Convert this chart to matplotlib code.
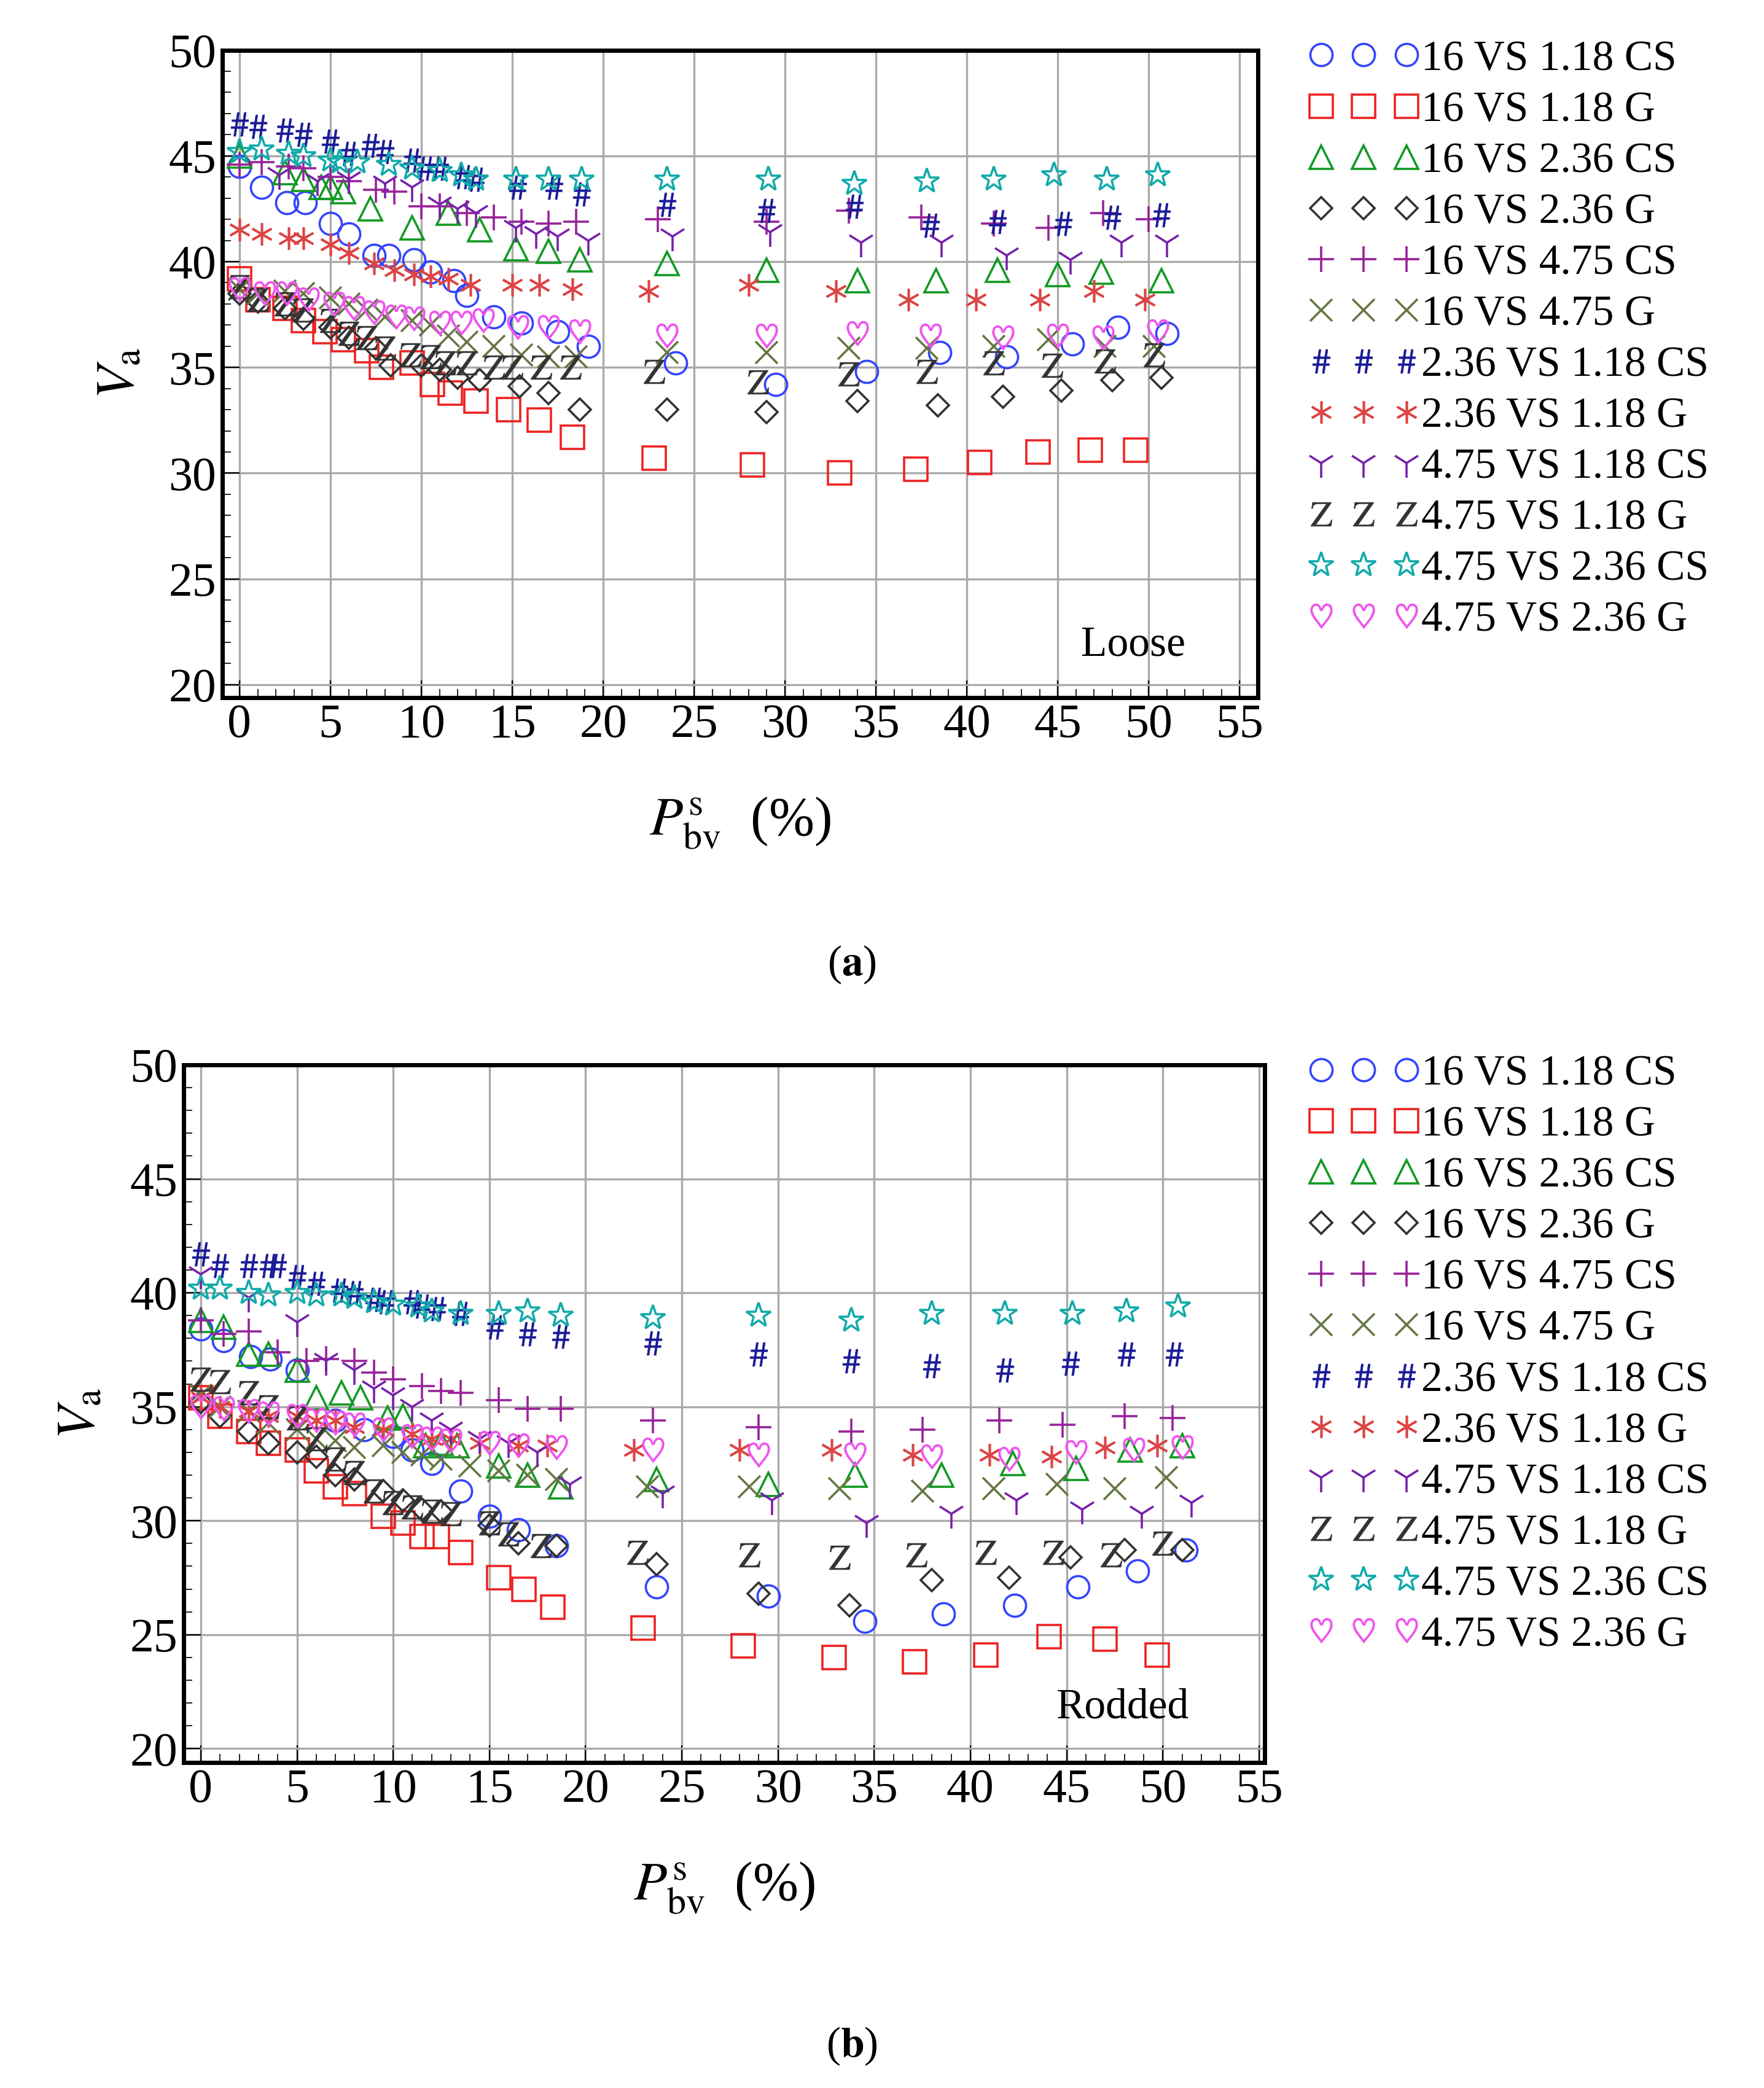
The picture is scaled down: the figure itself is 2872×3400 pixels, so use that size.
import matplotlib
matplotlib.use("Agg")
import matplotlib.pyplot as plt
from matplotlib.ticker import MultipleLocator

plt.rcParams['font.family'] = ['Liberation Serif', 'DejaVu Serif']
plt.rcParams['mathtext.fontset'] = 'stix'

labels = ["16 VS 1.18 CS", "16 VS 1.18 G", "16 VS 2.36 CS", "16 VS 2.36 G",
          "16 VS 4.75 CS", "16 VS 4.75 G", "2.36 VS 1.18 CS", "2.36 VS 1.18 G",
          "4.75 VS 1.18 CS", "4.75 VS 1.18 G", "4.75 VS 2.36 CS", "4.75 VS 2.36 G"]

# Panel (a) Loose: list of (x, y) points per series
loose = [
 [(0,44.5),(1.2,43.5),(2.6,42.8),(3.6,42.8),(5,41.8),(6,41.3),(7.4,40.3),(8.2,40.3),(9.6,40.1),(10.5,39.5),(11.8,39.1),(12.5,38.4),(14,37.4),(15.5,37.1),(17.5,36.7),(19.2,36),(24,35.2),(29.5,34.2),(34.5,34.8),(38.5,35.7),(42.2,35.5),(45.8,36.1),(48.3,36.9),(51,36.6)],
 [(0,39.2),(1,38.2),(2.5,37.8),(3.5,37.2),(4.7,36.7),(5.7,36.3),(7,35.8),(7.8,35),(9.5,35.2),(10.6,34.2),(11.6,33.8),(13,33.4),(14.8,33),(16.5,32.5),(18.3,31.7),(22.8,30.7),(28.2,30.4),(33,30),(37.2,30.2),(40.7,30.5),(43.9,31),(46.8,31.1),(49.3,31.1)],
 [(0,45),(2.5,44.2),(3.5,43.9),(4.5,43.5),(5,43.5),(5.7,43.3),(7.2,42.5),(9.5,41.6),(11.5,42.3),(13.2,41.5),(15.2,40.6),(17,40.5),(18.7,40.1),(23.5,39.9),(29,39.6),(34,39.1),(38.3,39.1),(41.7,39.6),(45,39.4),(47.4,39.5),(50.7,39.1)],
 [(0,38.5),(1,38.1),(2.5,37.8),(3.5,37.3),(5,36.9),(6,36.4),(7.5,35.9),(8.3,35.1),(10,35.1),(11,34.9),(12,34.5),(13.2,34.4),(15.4,34.1),(17,33.8),(18.7,33),(23.5,33),(29,32.9),(34,33.4),(38.4,33.2),(42,33.6),(45.2,33.9),(48,34.4),(50.7,34.5)],
 [(0,44.6),(1.2,44.7),(2.7,44.5),(3.5,44.4),(5,44),(6,43.8),(7.5,43.4),(8.5,43.3),(10,42.6),(11,42.6),(12.5,42.3),(14,42.1),(15.5,41.9),(17,41.8),(18.5,41.9),(23,42),(29,41.9),(33.5,42.4),(37.5,42.1),(41.5,41.8),(44.5,41.6),(47.5,42.3),(50,42.0)],
 [(0,38.7),(1,38.5),(2.5,38.6),(3.5,38.5),(5,38.3),(6,38),(7,37.7),(8,37.4),(9.5,37.2),(10.5,37),(11.5,36.5),(12.5,36.2),(14,36),(15.5,35.6),(17,35.5),(18.5,35.5),(23.5,35.7),(29,35.7),(33.5,35.9),(37.8,35.9),(41.5,36),(44.5,36.3),(47.6,36),(50.3,36)],
 [(0,46.5),(1,46.4),(2.5,46.2),(3.5,46),(5,45.7),(6,45.1),(7.2,45.5),(8,45.2),(9.5,44.8),(10.2,44.4),(11,44.4),(12.3,44.0),(13,43.9),(15.3,43.5),(17.3,43.5),(18.8,43.2),(23.5,42.7),(29,42.4),(33.8,42.6),(38,41.7),(41.7,41.9),(45.3,41.8),(48,42.1),(50.7,42.2)],
 [(0,41.5),(1.2,41.3),(2.7,41.1),(3.5,41.1),(5,40.8),(6,40.4),(7.4,39.9),(8.5,39.6),(9.6,39.4),(10.5,39.3),(11.5,39.2),(12.7,38.9),(15,38.9),(16.5,38.9),(18.3,38.7),(22.5,38.6),(28,38.9),(32.8,38.6),(36.8,38.2),(40.5,38.2),(44,38.2),(47,38.6),(49.8,38.2)],
 [(2.2,44.1),(4.3,43.8),(6,43.9),(8,43.7),(9.5,43.5),(11,42.7),(12,42.5),(13,42.3),(15.2,41.6),(16.3,41.3),(17.5,41.2),(19.2,41),(23.8,41.2),(29.2,41.4),(34.2,40.9),(38.6,40.9),(42.2,40.3),(45.7,40.1),(48.5,40.9),(51,40.9)],
 [(0,38.8),(1,38.2),(2.5,38),(3.5,37.7),(5,37.2),(6,36.6),(7,36.4),(8,35.9),(9.4,35.6),(10.5,35.5),(11.3,35.2),(12.5,35.2),(14,35),(15,35),(16.6,35),(18.2,35),(22.8,34.8),(28.5,34.3),(33.5,34.7),(37.8,34.8),(41.5,35.2),(44.7,35.1),(47.6,35.3),(50.3,35.6)],
 [(0,45.2),(1.2,45.3),(2.7,45.1),(3.5,45),(5,44.8),(5.5,44.7),(6.5,44.7),(8.2,44.6),(9.5,44.4),(11,44.3),(12.2,44.1),(13,43.9),(15.2,43.9),(17,43.9),(18.8,43.9),(23.5,43.9),(29.1,43.9),(33.8,43.7),(37.8,43.8),(41.5,43.9),(44.8,44.1),(47.7,43.9),(50.5,44.1)],
 [(0,38.7),(1.4,38.5),(2.6,38.5),(3.8,38.2),(5.2,38.0),(6.3,37.8),(7.4,37.6),(8.6,37.4),(9.6,37.3),(11,37.1),(12.2,37.1),(13.4,37.2),(15.3,36.9),(17,36.9),(18.7,36.7),(23.5,36.5),(29,36.5),(34,36.6),(38,36.5),(42,36.4),(45,36.5),(47.5,36.4),(50.5,36.7)],
]

# Panel (b) Rodded
rodded = [
 [(0,38.4),(1.2,37.9),(2.6,37.2),(3.6,37.1),(5,36.6),(7,34.4),(8.5,34),(10,33.7),(11,33.1),(12,32.5),(13.5,31.3),(15,30.2),(16.5,29.6),(18.5,28.9),(23.7,27.1),(29.5,26.7),(34.5,25.6),(38.6,25.9),(42.3,26.3),(45.6,27.1),(48.7,27.8),(51.2,28.7)],
 [(0,35.4),(1,34.6),(2.5,33.9),(3.5,33.4),(5,33.1),(6,32.2),(7,31.5),(8,31.2),(9.5,30.2),(10.5,29.9),(11.5,29.3),(12.3,29.3),(13.5,28.6),(15.5,27.5),(16.8,27),(18.3,26.2),(23,25.3),(28.2,24.5),(32.9,24),(37.1,23.8),(40.8,24.1),(44.1,24.9),(47,24.8),(49.7,24.1)],
 [(0,38.8),(1.2,38.5),(2.5,37.3),(3.5,37.3),(5,36.6),(6,35.4),(7.3,35.6),(8.3,35.4),(9.7,34.5),(10.5,34.6),(11.7,33.3),(12.5,33.4),(13.3,33.3),(15.5,32.4),(17,32),(18.7,31.5),(23.7,31.8),(29.5,31.6),(34,32),(38.5,32),(42.2,32.5),(45.5,32.3),(48.3,33.1),(51,33.3)],
 [(0,35.2),(1,34.6),(2.5,33.9),(3.5,33.4),(5,33),(6,32.8),(7,32),(8,31.8),(9.5,31.3),(10.5,30.9),(11.5,30.5),(12.5,30.4),(15,29.8),(16.5,29),(18.5,28.9),(23.7,28.1),(29,26.8),(33.7,26.3),(38,27.4),(42,27.5),(45.2,28.4),(48,28.7),(51,28.7)],
 [(0,38.8),(1.2,38.2),(2.5,38.3),(4,37.4),(5.5,37),(6.5,37.1),(8,37),(9,36.5),(10,36.2),(11.5,35.9),(12.5,35.7),(13.5,35.6),(15.5,35.3),(17,34.9),(18.7,34.9),(23.5,34.4),(29,34.1),(33.8,33.9),(37.5,34.0),(41.5,34.4),(44.8,34.2),(48,34.6),(50.5,34.5)],
 [(0,35.5),(1,35),(2.5,34.8),(3.5,34.3),(5,34),(6,33.6),(7,33.5),(8,33.2),(9.5,33.3),(10.5,33),(11.5,32.9),(12.5,32.7),(14,32.4),(15.5,32.2),(17,32),(18.5,31.8),(23.2,31.5),(28.5,31.5),(33.2,31.4),(37.5,31.3),(41.2,31.4),(44.5,31.6),(47.5,31.4),(50.2,31.9)],
 [(0,41.7),(1,41.2),(2.5,41.2),(3.5,41.2),(4,41.2),(5,40.7),(6,40.4),(7.2,40.1),(8,40),(9,39.7),(9.6,39.6),(11,39.6),(11.5,39.4),(12.3,39.3),(13.5,39.1),(15.3,38.5),(17,38.2),(18.7,38.1),(23.5,37.8),(29,37.3),(33.8,37),(38,36.8),(41.8,36.6),(45.2,36.9),(48.1,37.3),(50.6,37.3)],
 [(0,35.4),(1,35.0),(2.5,34.8),(3.5,34.6),(5,34.6),(6,34.4),(7,34.4),(8,34.1),(9.5,34),(11,33.8),(12,33.6),(13,33.6),(14.5,33.4),(16.5,33.3),(18,33.3),(22.5,33.1),(28,33.1),(32.8,33.1),(37,32.9),(41,32.9),(44.2,32.8),(47,33.2),(49.7,33.3)],
 [(0,40.8),(2.5,39.8),(5,38.7),(6.5,37.0),(8,36.6),(9,35.8),(10,35.5),(11,35.0),(12,34.4),(13,34.0),(14.5,33.6),(16,33.4),(17.5,33.0),(19.2,31.6),(24,31.2),(29.7,30.9),(34.6,29.9),(39,30.3),(42.4,30.9),(45.8,30.5),(48.9,30.3),(51.5,30.8)],
 [(0,36.2),(1,36.1),(2.5,35.6),(3.5,35),(5,34.5),(6,33.6),(7,32.7),(8,32.1),(9,31.3),(10,30.8),(11,30.6),(12,30.4),(13,30.3),(15,29.9),(16,29.4),(17.7,28.9),(22.7,28.6),(28.5,28.5),(33.2,28.4),(37.2,28.5),(40.8,28.6),(44.3,28.6),(47.3,28.5),(50,29)],
 [(0,40.2),(1,40.2),(2.5,40.0),(3.5,39.9),(5,40),(6,39.9),(7.3,39.9),(8,39.8),(9,39.6),(10,39.5),(11.3,39.4),(12,39.2),(13.5,39.1),(15.5,39.1),(17,39.2),(18.7,39),(23.5,38.9),(29,39),(33.8,38.8),(38,39.1),(41.8,39.1),(45.3,39.1),(48.1,39.2),(50.8,39.4)],
 [(0,35),(1.2,34.9),(2.5,34.8),(3.5,34.7),(5,34.6),(6,34.4),(7,34.3),(8,34.2),(9.5,34),(11,33.7),(12,33.6),(13,33.5),(15,33.4),(16.5,33.3),(18.5,33.2),(23.5,33.1),(29,32.9),(34,32.9),(38,32.8),(42,32.7),(45.5,33),(48.5,33.1),(51,33.2)],
]

markers = ['o', 's', '^', 'D', '+', 'x', r'$\#$', (6, 2, 0), '1', r'$\mathrm{Z}$', '*', r'$\heartsuit$']
colors = ['#3344ff', '#ee2222', '#119922', '#333333', '#992299', '#667744',
          '#1a1a99', '#dd4444', '#7722aa', '#333333', '#11aaaa', '#ee55ee']
sizes = [13, 14, 14, 9, 15, 13, 14, 13, 17, 14, 15, 15]
filled = [False, False, False, False, True, True, True, True, True, True, False, True]
mew = [1.3, 1.3, 1.3, 1.3, 1.3, 1.3, 0.2, 1.3, 1.3, 0.2, 1.3, 0.0]

fig = plt.figure(figsize=(14.36, 17), dpi=200)
axa = fig.add_axes([0.126, 0.666, 0.587, 0.310])
axb = fig.add_axes([0.104, 0.156, 0.613, 0.334])

for ax, data, xl, name in [(axa, loose, (-0.95, 56.0), 'Loose'), (axb, rodded, (-0.9, 55.3), 'Rodded')]:
    handles = []
    for i, pts in enumerate(data):
        xs = [p[0] for p in pts]; ys = [p[1] for p in pts]
        kw = dict(linestyle='none', marker=markers[i], markersize=sizes[i], color=colors[i],
                  markeredgewidth=mew[i], label=labels[i])
        if not filled[i]:
            kw['markerfacecolor'] = 'none'
        h, = ax.plot(xs, ys, **kw)
        handles.append(h)
    ax.set_xlim(*xl); ax.set_ylim(19.4, 50)
    ax.xaxis.set_major_locator(MultipleLocator(5)); ax.xaxis.set_minor_locator(MultipleLocator(1))
    ax.yaxis.set_major_locator(MultipleLocator(5)); ax.yaxis.set_minor_locator(MultipleLocator(1))
    ax.tick_params(which='both', direction='in', labelsize=28)
    ax.tick_params(which='major', length=10); ax.tick_params(which='minor', length=5)
    ax.grid(True, which='major', color='#aaaaaa', linewidth=1.2)
    for s in ax.spines.values():
        s.set_linewidth(2.5)
    ax.set_ylabel(r'$V_{\mathrm{a}}$', fontsize=32, labelpad=14)
    ax.set_xlabel(r'$P^{\mathrm{s}}_{\mathrm{bv}}$  (%)', fontsize=32, labelpad=28)
    ax.text(0.93, 0.05, name, transform=ax.transAxes, ha='right', va='bottom', fontsize=25)
    bb = ax.get_position()
    fig.legend(handles=handles, loc='upper left', bbox_to_anchor=(0.732, bb.y1 + 0.013),
               numpoints=3, frameon=False, fontsize=25, handlelength=2.6, handletextpad=0.05,
               labelspacing=0.28, borderaxespad=0)

fig.text(0.483, 0.533, r'($\mathbf{a}$)', ha='center', fontsize=25)
fig.text(0.483, 0.015, r'($\mathbf{b}$)', ha='center', fontsize=25)
fig.savefig('out.png', dpi=200)
